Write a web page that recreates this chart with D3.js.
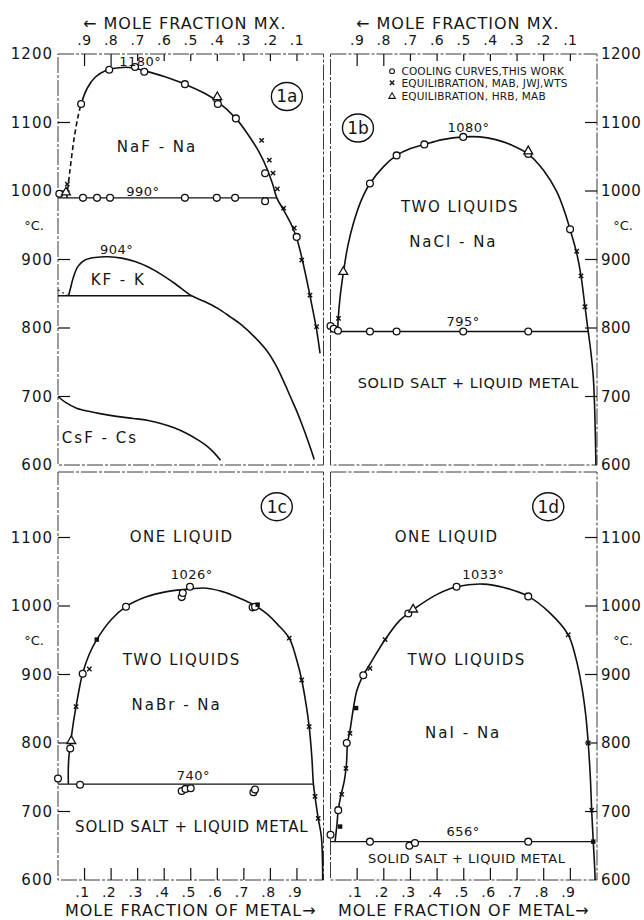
<!DOCTYPE html>
<html>
<head>
<meta charset="utf-8">
<script src="https://cdn.jsdelivr.net/npm/d3@7"></script>
<style>
  body { margin: 0; background: #fff; }
  svg text { font-family: "DejaVu Sans", sans-serif; fill: #151515; }
</style>
</head>
<body>
<svg id="chart" width="644" height="920"></svg>
<script>
// ---------- Data: [mole fraction of metal, temperature °C] ----------
const metalTicks = [0.1, 0.2, 0.3, 0.4, 0.5, 0.6, 0.7, 0.8, 0.9];
const metalTickLabels = [".1", ".2", ".3", ".4", ".5", ".6", ".7", ".8", ".9"];
const saltTicks = [0.9, 0.8, 0.7, 0.6, 0.5, 0.4, 0.3, 0.2, 0.1];
const saltTickLabels = [".9", ".8", ".7", ".6", ".5", ".4", ".3", ".2", ".1"];
const tempTicks = [600, 700, 800, 900, 1000, 1100, 1200];
const tempTickLabels = ["600", "700", "800", "900", "1000", "1100", "1200"];

// 1a  NaF - Na, KF - K, CsF - Cs
const nafDashed = [[0.033, 990], [0.045, 1030], [0.06, 1075], [0.075, 1108], [0.087, 1127]];
const nafCurve = [[0.087, 1127], [0.11, 1150], [0.14, 1166], [0.18, 1176], [0.23, 1180], [0.28, 1180],
  [0.33, 1175], [0.4, 1167], [0.478, 1156], [0.55, 1143], [0.6, 1131], [0.67, 1106], [0.72, 1080],
  [0.76, 1055], [0.79, 1030], [0.81, 1008], [0.824, 990], [0.85, 972], [0.88, 950], [0.9, 930],
  [0.92, 900], [0.945, 855], [0.963, 820], [0.975, 795], [0.987, 763]];
const nafEutectic = 990;
const nafEutecticEnd = 0.824;
const nafCircles = [[0.087, 1127], [0.193, 1177], [0.29, 1181], [0.325, 1174], [0.478, 1156], [0.6, 1133],
  [0.602, 1127], [0.67, 1106], [0.78, 1026], [0.899, 933], [0.005, 996],
  [0.094, 990], [0.147, 990], [0.196, 990], [0.478, 990], [0.598, 990], [0.667, 990], [0.78, 985]];
const nafCrosses = [[0.767, 1074], [0.796, 1045], [0.81, 1026], [0.826, 1003], [0.85, 975], [0.89, 946],
  [0.918, 899], [0.949, 848], [0.974, 802], [0.035, 1010]];
const nafTriangles = [[0.6, 1137], [0.03, 998]];

const kfDotted = [[0.0, 856], [0.02, 851], [0.04, 847]];
const kfCurve = [[0.04, 847], [0.047, 858], [0.058, 874], [0.075, 890], [0.1, 899], [0.14, 903],
  [0.19, 904], [0.24, 902], [0.29, 897], [0.34, 889], [0.39, 878], [0.44, 865], [0.503, 847],
  [0.55, 839], [0.6, 829], [0.65, 816], [0.69, 805], [0.74, 787], [0.79, 765], [0.82, 746],
  [0.85, 722], [0.875, 700], [0.9, 678], [0.92, 658], [0.94, 637], [0.955, 620], [0.965, 608]];
const kfMonotectic = 847;
const kfMonotecticEnd = 0.503;

const csfCurve = [[0.0, 700], [0.03, 691], [0.07, 683], [0.12, 678], [0.158, 675], [0.22, 671],
  [0.284, 668], [0.34, 665], [0.384, 661], [0.44, 654], [0.485, 646], [0.53, 636], [0.56, 628],
  [0.59, 617], [0.612, 607]];

// 1b  NaCl - Na
const naclCurve = [[0.027, 797], [0.029, 814], [0.036, 845], [0.048, 880], [0.065, 920], [0.086, 953],
  [0.115, 986], [0.148, 1011], [0.2, 1036], [0.248, 1052], [0.3, 1062], [0.352, 1068], [0.42, 1075],
  [0.5, 1079], [0.56, 1079], [0.62, 1075], [0.68, 1067], [0.742, 1054], [0.8, 1030], [0.849, 999],
  [0.88, 968], [0.899, 944], [0.924, 909], [0.94, 876], [0.955, 831], [0.967, 795], [0.977, 765],
  [0.986, 729], [0.991, 685], [0.994, 640], [0.996, 600]];
const naclMonotectic = 795;
const naclMonotecticEnd = 0.967;
const naclCircles = [[0.148, 1011], [0.248, 1052], [0.352, 1068], [0.498, 1079], [0.742, 1054], [0.899, 944],
  [0.148, 795], [0.248, 795], [0.498, 795], [0.742, 795], [0.0, 803], [0.012, 799], [0.028, 796]];
const naclCrosses = [[0.03, 814], [0.924, 912], [0.94, 876], [0.955, 831]];
const naclTriangles = [[0.048, 882], [0.742, 1058]];

// 1c  NaBr - Na
const nabrCurve = [[0.039, 740], [0.039, 765], [0.043, 788], [0.048, 802], [0.058, 830], [0.068, 853],
  [0.083, 885], [0.093, 902], [0.118, 930], [0.146, 951], [0.2, 980], [0.256, 999], [0.33, 1013],
  [0.41, 1021], [0.5, 1025], [0.56, 1026], [0.62, 1021], [0.68, 1012], [0.736, 1002], [0.786, 989],
  [0.83, 972], [0.871, 953], [0.9, 920], [0.918, 892], [0.935, 855], [0.946, 824], [0.956, 780],
  [0.962, 740], [0.968, 722], [0.98, 690], [0.992, 663], [0.997, 600]];
const nabrMonotectic = 740;
const nabrMonotecticEnd = 0.962;
const nabrCircles = [[0.093, 901], [0.256, 999], [0.466, 1013], [0.47, 1019], [0.497, 1028], [0.733, 998],
  [0.742, 999], [0.046, 792], [0.0, 748], [0.083, 739], [0.466, 730], [0.48, 733], [0.5, 734],
  [0.736, 728], [0.742, 732]];
const nabrCrosses = [[0.118, 908], [0.068, 853], [0.918, 892], [0.871, 953], [0.946, 824], [0.968, 722],
  [0.98, 690]];
const nabrTriangles = [[0.05, 803]];
const nabrSquares = [[0.146, 951], [0.752, 1002]];

// 1d  NaI - Na
const naiCurve = [[0.017, 656], [0.024, 680], [0.029, 702], [0.04, 725], [0.052, 745], [0.06, 770],
  [0.064, 800], [0.073, 818], [0.086, 851], [0.1, 878], [0.123, 899], [0.148, 915], [0.205, 951],
  [0.26, 979], [0.315, 996], [0.4, 1017], [0.473, 1028], [0.573, 1032], [0.65, 1027], [0.742, 1014],
  [0.82, 991], [0.892, 958], [0.92, 925], [0.943, 882], [0.958, 840], [0.967, 800], [0.975, 750],
  [0.98, 702], [0.986, 656], [0.991, 620], [0.993, 600]];
const naiMonotectic = 656;
const naiMonotecticEnd = 0.986;
const naiCircles = [[0.123, 899], [0.292, 989], [0.473, 1028], [0.742, 1014], [0.061, 800], [0.029, 702],
  [0.0, 666], [0.148, 656], [0.296, 650], [0.317, 654], [0.742, 656]];
const naiCrosses = [[0.148, 909], [0.073, 814], [0.058, 763], [0.042, 725], [0.205, 951], [0.892, 958],
  [0.967, 800], [0.98, 702]];
const naiTriangles = [[0.31, 995]];
const naiSquares = [[0.096, 851], [0.036, 678], [0.986, 656]];

// ---------- Layout ----------
const svg = d3.select("#chart");
const cols = [[58, 323.5], [330.5, 597]];
const rows = [{ y600: 465, y1200: 54, top: 54, bottom: 465 }, { y600: 880, y1200: 469, top: 472, bottom: 880 }];

function scalesFor(c, r) {
  const x = d3.scaleLinear().domain([0, 1]).range(cols[c]);
  const y = d3.scaleLinear().domain([600, 1200]).range([rows[r].y600, rows[r].y1200]);
  return { x, y };
}

const line = (x, y) => d3.line().x(d => x(d[0])).y(d => y(d[1])).curve(d3.curveCatmullRom.alpha(0.5));

function frame(c, r) {
  const g = svg.append("g");
  g.append("rect")
    .attr("x", cols[c][0]).attr("y", rows[r].top)
    .attr("width", cols[c][1] - cols[c][0]).attr("height", rows[r].bottom - rows[r].top)
    .attr("fill", "none").attr("stroke", "#3a3a3a").attr("stroke-width", 1)
    .attr("stroke-dasharray", "16,2,3,2");
  return g;
}

function curve(g, s, data, opts = {}) {
  g.append("path").datum(data)
    .attr("d", line(s.x, s.y))
    .attr("fill", "none").attr("stroke", "#111")
    .attr("stroke-width", opts.width || 1.6)
    .attr("stroke-dasharray", opts.dash || null);
}

function hline(g, s, t, x0, x1) {
  g.append("line")
    .attr("x1", s.x(x0)).attr("x2", s.x(x1))
    .attr("y1", s.y(t)).attr("y2", s.y(t))
    .attr("stroke", "#111").attr("stroke-width", 1.4);
}

function circles(g, s, data) {
  g.selectAll(null).data(data).enter().append("circle")
    .attr("cx", d => s.x(d[0])).attr("cy", d => s.y(d[1])).attr("r", 3.4)
    .attr("fill", "#fff").attr("stroke", "#111").attr("stroke-width", 1.3);
}
function crosses(g, s, data) {
  const sym = d3.symbol().type(d3.symbolX).size(14);
  g.selectAll(null).data(data).enter().append("path")
    .attr("d", sym)
    .attr("transform", d => `translate(${s.x(d[0])},${s.y(d[1])})`)
    .attr("fill", "none").attr("stroke", "#111").attr("stroke-width", 1.4);
}
function triangles(g, s, data) {
  const sym = d3.symbol().type(d3.symbolTriangle).size(34);
  g.selectAll(null).data(data).enter().append("path")
    .attr("d", sym)
    .attr("transform", d => `translate(${s.x(d[0])},${s.y(d[1])})`)
    .attr("fill", "#fff").attr("stroke", "#111").attr("stroke-width", 1.3);
}
function squares(g, s, data) {
  const sym = d3.symbol().type(d3.symbolSquare).size(20);
  g.selectAll(null).data(data).enter().append("path")
    .attr("d", sym)
    .attr("transform", d => `translate(${s.x(d[0])},${s.y(d[1])})`)
    .attr("fill", "#111");
}

function text(g, s, str, xv, tv, size, spacing, anchor = "middle") {
  return g.append("text")
    .attr("x", s.x(xv)).attr("y", s.y(tv))
    .attr("text-anchor", anchor).attr("dominant-baseline", "central")
    .attr("font-size", size).attr("letter-spacing", spacing)
    .text(str);
}

function panelTag(g, s, str, xv, tv) {
  g.append("ellipse").attr("cx", s.x(xv)).attr("cy", s.y(tv)).attr("rx", 15.5).attr("ry", 14)
    .attr("fill", "#fff").attr("stroke", "#111").attr("stroke-width", 1.4);
  text(g, s, str, xv, tv, 17, 0);
}

// Temperature axis: side "left" draws labels outside the left frame, "right" outside the right frame
function tempAxis(g, s, c, r, side, show) {
  const xf = side === "left" ? cols[c][0] : cols[c][1];
  const dir = side === "left" ? 1 : -1;
  tempTicks.forEach((t, i) => {
    if (t > 600 && t < 1200) {
      g.append("line").attr("x1", xf).attr("x2", xf + dir * 12)
        .attr("y1", s.y(t)).attr("y2", s.y(t))
        .attr("stroke", "#111").attr("stroke-width", 1.2);
    }
    if (show.includes(t)) {
      g.append("text")
        .attr("x", side === "left" ? xf - 5 : xf + 4)
        .attr("y", s.y(t))
        .attr("text-anchor", side === "left" ? "end" : "start")
        .attr("dominant-baseline", "central")
        .attr("font-size", 15).attr("letter-spacing", side === "left" ? 1 : 0.5)
        .text(tempTickLabels[i]);
    }
  });
  g.append("text")
    .attr("x", side === "left" ? xf - 24 : xf + 26)
    .attr("y", s.y(950))
    .attr("text-anchor", "middle").attr("dominant-baseline", "central")
    .attr("font-size", 13).text("°C.");
}

function saltAxisTop(g, s, c, r) {
  saltTicks.forEach((m, i) => {
    const xp = s.x(1 - m);
    g.append("line").attr("x1", xp).attr("x2", xp)
      .attr("y1", rows[r].top).attr("y2", rows[r].top + (m >= 0.8 ? 12 : 7))
      .attr("stroke", "#111").attr("stroke-width", 1.2);
    g.append("text").attr("x", xp).attr("y", rows[r].top - 9)
      .attr("text-anchor", "middle").attr("font-size", 14).attr("letter-spacing", 0.5)
      .text(saltTickLabels[i]);
  });
  g.append("text").attr("x", (cols[c][0] + cols[c][1]) / 2 - 6).attr("y", 29)
    .attr("text-anchor", "middle").attr("font-size", 16).attr("letter-spacing", 1)
    .text("← MOLE FRACTION MX.");
}

function metalAxisBottom(g, s, c, r) {
  metalTicks.forEach((m, i) => {
    const xp = s.x(m);
    g.append("line").attr("x1", xp).attr("x2", xp)
      .attr("y1", rows[r].bottom).attr("y2", rows[r].bottom - 12)
      .attr("stroke", "#111").attr("stroke-width", 1.2);
    g.append("text").attr("x", xp - 2).attr("y", rows[r].bottom + 17)
      .attr("text-anchor", "middle").attr("font-size", 14).attr("letter-spacing", 0.5)
      .text(metalTickLabels[i]);
  });
  g.append("text").attr("x", (cols[c][0] + cols[c][1]) / 2).attr("y", 916)
    .attr("text-anchor", "middle").attr("font-size", 16).attr("letter-spacing", 1)
    .text("MOLE FRACTION OF METAL→");
}

// ---------- Panel 1a ----------
{
  const s = scalesFor(0, 0);
  const g = frame(0, 0);
  tempAxis(g, s, 0, 0, "left", [600, 700, 800, 900, 1000, 1100, 1200]);
  saltAxisTop(g, s, 0, 0);
  curve(g, s, nafDashed, { dash: "5,3" });
  curve(g, s, nafCurve);
  hline(g, s, nafEutectic, 0, nafEutecticEnd);
  curve(g, s, kfDotted, { dash: "2,3", width: 1.2 });
  curve(g, s, kfCurve);
  hline(g, s, kfMonotectic, 0, kfMonotecticEnd);
  curve(g, s, csfCurve);
  circles(g, s, nafCircles);
  crosses(g, s, nafCrosses);
  triangles(g, s, nafTriangles);
  text(g, s, "1180°", 0.31, 1189, 13, 0.5);
  text(g, s, "NaF - Na", 0.373, 1064, 15, 2);
  text(g, s, "990°", 0.32, 1000, 13, 0.5);
  text(g, s, "904°", 0.221, 915, 13, 0.5);
  text(g, s, "KF - K", 0.227, 870, 15, 2);
  text(g, s, "CsF - Cs", 0.158, 639, 15, 2);
  panelTag(g, s, "1a", 0.862, 1138);
}

// ---------- Panel 1b ----------
{
  const s = scalesFor(1, 0);
  const g = frame(1, 0);
  tempAxis(g, s, 1, 0, "right", [600, 700, 800, 900, 1000, 1100, 1200]);
  saltAxisTop(g, s, 1, 0);
  curve(g, s, naclCurve);
  hline(g, s, naclMonotectic, 0, naclMonotecticEnd);
  circles(g, s, naclCircles);
  crosses(g, s, naclCrosses);
  triangles(g, s, naclTriangles);
  text(g, s, "1080°", 0.518, 1093, 13, 0.5);
  text(g, s, "TWO LIQUIDS", 0.486, 977, 15, 1.5);
  text(g, s, "NaCl - Na", 0.461, 926, 15, 2);
  text(g, s, "795°", 0.498, 810, 13, 0.5);
  text(g, s, "SOLID SALT + LIQUID METAL", 0.517, 719, 14.5, 0.6);
  panelTag(g, s, "1b", 0.103, 1092);

  // legend of data sources
  const legend = [
    { sym: "circle", label: "COOLING CURVES,THIS WORK", t: 1175 },
    { sym: "cross", label: "EQUILIBRATION, MAB, JWJ,WTS", t: 1158 },
    { sym: "triangle", label: "EQUILIBRATION, HRB, MAB", t: 1138 }
  ];
  legend.forEach(l => {
    const pt = [[0.231, l.t]];
    if (l.sym === "circle") {
      g.append("circle").attr("cx", s.x(0.231)).attr("cy", s.y(l.t)).attr("r", 2.4)
        .attr("fill", "#fff").attr("stroke", "#111").attr("stroke-width", 1.1);
    } else if (l.sym === "cross") {
      crosses(g, s, pt);
    } else {
      g.append("path").attr("d", d3.symbol().type(d3.symbolTriangle).size(18))
        .attr("transform", `translate(${s.x(0.231)},${s.y(l.t)})`)
        .attr("fill", "#fff").attr("stroke", "#111").attr("stroke-width", 1.1);
    }
    text(g, s, l.label, 0.266, l.t, 10.5, 0.2, "start");
  });
}

// ---------- Panel 1c ----------
{
  const s = scalesFor(0, 1);
  const g = frame(0, 1);
  tempAxis(g, s, 0, 1, "left", [600, 700, 800, 900, 1000, 1100]);
  metalAxisBottom(g, s, 0, 1);
  curve(g, s, nabrCurve);
  hline(g, s, nabrMonotectic, 0, nabrMonotecticEnd);
  circles(g, s, nabrCircles);
  crosses(g, s, nabrCrosses);
  triangles(g, s, nabrTriangles);
  squares(g, s, nabrSquares);
  text(g, s, "ONE LIQUID", 0.466, 1101, 15, 1.5);
  text(g, s, "1026°", 0.504, 1046, 13, 0.5);
  text(g, s, "TWO LIQUIDS", 0.466, 921, 15, 1.5);
  text(g, s, "NaBr - Na", 0.447, 855, 15, 2);
  text(g, s, "740°", 0.51, 752, 13, 0.5);
  text(g, s, "SOLID SALT + LIQUID METAL", 0.504, 678, 15, 0.8);
  panelTag(g, s, "1c", 0.824, 1145);
}

// ---------- Panel 1d ----------
{
  const s = scalesFor(1, 1);
  const g = frame(1, 1);
  tempAxis(g, s, 1, 1, "right", [600, 700, 800, 900, 1000, 1100]);
  metalAxisBottom(g, s, 1, 1);
  curve(g, s, naiCurve);
  hline(g, s, naiMonotectic, 0, naiMonotecticEnd);
  circles(g, s, naiCircles);
  crosses(g, s, naiCrosses);
  triangles(g, s, naiTriangles);
  squares(g, s, naiSquares);
  text(g, s, "ONE LIQUID", 0.436, 1101, 15, 1.5);
  text(g, s, "1033°", 0.573, 1046, 13, 0.5);
  text(g, s, "TWO LIQUIDS", 0.511, 921, 15, 1.5);
  text(g, s, "NaI - Na", 0.498, 814, 15, 2);
  text(g, s, "656°", 0.498, 671, 13, 0.5);
  text(g, s, "SOLID SALT + LIQUID METAL", 0.511, 632, 13, 0.5);
  panelTag(g, s, "1d", 0.817, 1145);
}
</script>
</body>
</html>
